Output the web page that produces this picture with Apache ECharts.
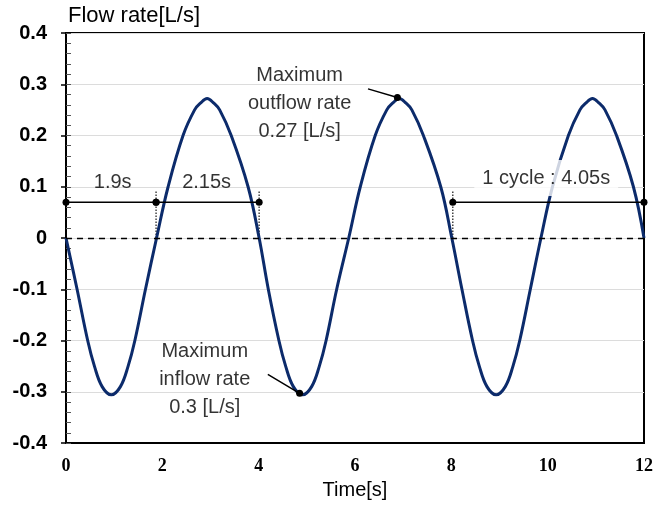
<!DOCTYPE html>
<html>
<head>
<meta charset="utf-8">
<script src="https://cdn.jsdelivr.net/npm/echarts@6/dist/echarts.min.js"></script>
<style>
  html, body { margin: 0; padding: 0; background: #fff; }
  #flow { width: 656px; height: 505px; }
</style>
</head>
<body>
<div id="flow"></div>
<script>
// flow rate curve
var timeS = [0, 0.23, 0.45, 0.59, 0.75, 0.94, 1.13, 1.29, 1.43, 1.65,
  1.88, 2.12, 2.43, 2.67, 2.79, 2.93, 3.07, 3.19, 3.43, 3.78,
  4.01, 4.20, 4.42, 4.56, 4.72, 4.91, 5.10, 5.26, 5.40, 5.62,
  5.87, 6.11, 6.42, 6.66, 6.78, 6.92, 7.06, 7.18, 7.42, 7.78,
  8.01, 8.22, 8.44, 8.58, 8.74, 8.93, 9.12, 9.28, 9.42, 9.64,
  9.86, 10.10, 10.43, 10.67, 10.79, 10.93, 11.07, 11.19, 11.43, 11.78, 12.0];
var flowRate = [0, -0.1, -0.2, -0.25, -0.29, -0.306, -0.29, -0.25, -0.2, -0.1,
  0, 0.1, 0.2, 0.25, 0.263, 0.272, 0.263, 0.25, 0.2, 0.1,
  0, -0.1, -0.2, -0.25, -0.29, -0.306, -0.29, -0.25, -0.2, -0.1,
  0, 0.1, 0.2, 0.25, 0.263, 0.272, 0.263, 0.25, 0.2, 0.1,
  0, -0.1, -0.2, -0.25, -0.29, -0.306, -0.29, -0.25, -0.2, -0.1,
  0, 0.1, 0.2, 0.25, 0.263, 0.272, 0.263, 0.25, 0.2, 0.1, 0];

// period markers
var periodY = 0.07;
var periodSegs = [[0, 1.87], [1.87, 4.01], [8.03, 12]];
var dropT = [1.87, 4.01, 8.03];
var dropTop = 0.092;

var xTicks = [0, 2, 4, 6, 8, 10, 12];

// labels: [t, v, text]
var periodLabels = [
  [0.97, 0.109, '1.9s'],
  [2.92, 0.109, '2.15s']
];
var cycleLabel = [9.97, 0.117, '1 cycle : 4.05s'];
var peakLabels = [
  [4.85, 0.263, 'Maximum\noutflow rate\n0.27 [L/s]'],
  [2.88, -0.276, 'Maximum\ninflow rate\n0.3 [L/s]']
];
var leaders = [
  [[6.27, 0.291], [6.88, 0.274]],
  [[4.19, -0.266], [4.85, -0.303]]
];

var curveData = [];
for (var i = 0; i < timeS.length; i++) {
  curveData.push([timeS[i], flowRate[i]]);
}

var segData = [];
periodSegs.forEach(function (s, k) {
  if (k > 0) segData.push('-');
  segData.push([s[0], periodY]);
  segData.push([s[1], periodY]);
});

var dropData = [];
dropT.forEach(function (t, k) {
  if (k > 0) dropData.push('-');
  dropData.push([t, 0]);
  dropData.push([t, dropTop]);
});

var leaderData = [];
leaders.forEach(function (l, k) {
  if (k > 0) leaderData.push('-');
  leaderData.push({ value: l[0], symbol: 'none' });
  leaderData.push({ value: l[1], symbol: 'circle', symbolSize: 7 });
});

var font = 'Liberation Sans, Arial, sans-serif';

var flowChart = echarts.init(document.getElementById('flow'));
var option = {
  backgroundColor: '#FFFFFF',
  animation: false,
  graphic: [{
    type: 'text',
    left: 68,
    top: 5,
    style: { text: 'Flow rate[L/s]', fontSize: 22, fontFamily: font, fill: '#000' }
  }],
  grid: {
    left: 66, right: 6, top: 33, bottom: 61,
    show: true, borderColor: '#000', borderWidth: 2
  },
  xAxis: {
    type: 'value',
    min: 0, max: 12, interval: 2,
    name: 'Time[s]',
    nameLocation: 'middle',
    nameGap: 37,
    nameTextStyle: { fontSize: 20, fontFamily: font, color: '#000' },
    axisLine: { onZero: false, lineStyle: { color: '#000', width: 2 } },
    axisTick: { show: false },
    splitLine: { show: false },
    axisLabel: {
      margin: 14,
      color: '#000',
      fontSize: 18,
      fontWeight: 'bold',
      fontFamily: 'Liberation Serif, Times New Roman, serif',
      formatter: function (v) { return xTicks.indexOf(v) >= 0 ? String(v) : ''; }
    }
  },
  yAxis: [{
    type: 'value',
    min: -0.4, max: 0.4, interval: 0.1,
    axisLine: { show: true, onZero: false, lineStyle: { color: '#000', width: 2 } },
    axisTick: { show: true, length: 5, lineStyle: { color: '#000', width: 1.5 } },
    splitLine: { show: true, lineStyle: { color: '#dcdcdc', width: 1 } },
    axisLabel: {
      margin: 19,
      color: '#000',
      fontSize: 20,
      fontWeight: 'bold',
      fontFamily: font,
      formatter: function (v) {
        var r = Math.round(v * 10) / 10;
        return r === 0 ? '0' : r.toFixed(1);
      }
    }
  }, {
    type: 'value',
    position: 'left',
    min: -0.4, max: 0.4, interval: 0.02,
    axisLine: { show: false },
    axisTick: { show: true, inside: true, length: 5, lineStyle: { color: '#555', width: 1 } },
    axisLabel: { show: false },
    splitLine: { show: false }
  }],
  series: [
    {
      name: 'flow',
      type: 'line',
      data: curveData,
      smooth: 0.4,
      showSymbol: false,
      z: 3,
      lineStyle: { color: '#0c2b6b', width: 3 },
      markLine: {
        silent: true,
        symbol: 'none',
        label: { show: false },
        lineStyle: { color: '#000', type: [6, 5], width: 1.3 },
        data: [{ yAxis: 0 }]
      }
    },
    {
      name: 'period',
      type: 'line',
      data: segData,
      z: 4,
      symbol: 'circle',
      symbolSize: 7,
      itemStyle: { color: '#000' },
      lineStyle: { color: '#000', width: 1.5 }
    },
    {
      name: 'drop',
      type: 'line',
      data: dropData,
      z: 2,
      showSymbol: false,
      lineStyle: { color: '#444', width: 1.5, type: 'dotted' }
    },
    {
      name: 'leader',
      type: 'line',
      data: leaderData,
      z: 5,
      itemStyle: { color: '#000' },
      lineStyle: { color: '#000', width: 1.5 }
    },
    {
      name: 'text',
      type: 'scatter',
      z: 10,
      symbolSize: 0,
      data: periodLabels.concat(peakLabels).map(function (d) {
        return { value: [d[0], d[1]], name: d[2] };
      }).concat([{
        value: [cycleLabel[0], cycleLabel[1]],
        name: cycleLabel[2],
        label: { backgroundColor: '#fff', padding: [4, 8] }
      }]),
      label: {
        show: true,
        position: 'inside',
        formatter: function (p) { return p.name; },
        color: '#000',
        textBorderWidth: 0,
        fontSize: 20,
        lineHeight: 28,
        fontFamily: font,
        align: 'center'
      }
    }
  ]
};
option && flowChart.setOption(option);
</script>
</body>
</html>
